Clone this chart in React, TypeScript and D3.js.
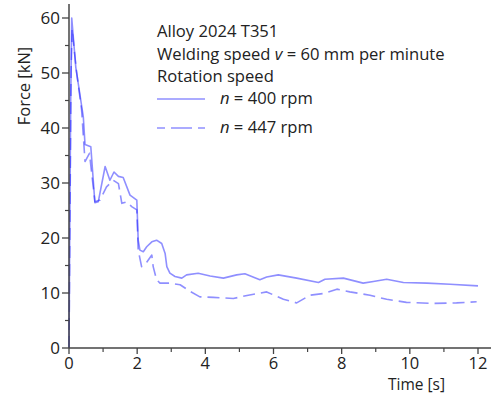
import React from "react";
import * as d3 from "d3";

const seriesSolidT = [0, 0.02, 0.05, 0.08, 0.2, 0.42, 0.47, 0.64, 0.76, 0.86, 1.06, 1.2, 1.32, 1.45, 1.59, 1.79, 1.99, 2.03, 2.08, 2.18, 2.28, 2.43, 2.57, 2.72, 2.82, 2.87, 2.96, 3.11, 3.31, 3.45, 3.79, 4.14, 4.53, 4.92, 5.16, 5.6, 5.8, 6.14, 6.68, 7.32, 7.51, 8.05, 8.63, 8.93, 9.32, 9.81, 10.5, 11.18, 12.0];
const seriesSolidV = [0, 20, 45, 60, 51, 42, 37, 36.6, 26.4, 26.6, 33, 30.5, 32, 31.2, 31, 27.8, 26.9, 19.6, 17.8, 17.5, 18.4, 19.3, 19.6, 19, 17.2, 14.8, 13.6, 13.0, 12.7, 13.3, 13.6, 13.1, 12.7, 13.3, 13.5, 12.4, 12.9, 13.3, 12.7, 11.9, 12.5, 12.7, 11.8, 12.1, 12.5, 11.9, 11.8, 11.6, 11.3];

const seriesDashT = [0, 0.03, 0.06, 0.09, 0.22, 0.37, 0.47, 0.6, 0.76, 0.91, 1.1, 1.3, 1.45, 1.55, 1.7, 1.84, 1.99, 2.03, 2.13, 2.28, 2.43, 2.47, 2.57, 2.67, 2.96, 3.26, 3.55, 3.84, 4.23, 4.82, 5.26, 5.8, 6.29, 6.68, 7.07, 7.46, 7.86, 8.24, 8.83, 9.32, 9.9, 10.69, 11.37, 11.96];
const seriesDashV = [0, 25, 50, 58, 50.3, 43.3, 33.9, 35.4, 26.6, 26.9, 29.3, 30.5, 29.9, 26.3, 26.6, 25.7, 25.1, 17.8, 14.8, 15.6, 16.9, 14.8, 12.4, 11.8, 11.8, 11.5, 10.3, 9.3, 9.2, 9.0, 9.6, 10.2, 8.85, 8.2, 9.6, 9.9, 10.7, 10.2, 9.6, 8.85, 8.3, 8.1, 8.2, 8.4];

const xTicks = [0, 2, 4, 6, 8, 10, 12];
const yTicks = [0, 10, 20, 30, 40, 50, 60];
const xMinor = [1, 3, 5, 7, 9, 11];
const yMinor = [5, 15, 25, 35, 45, 55];

const legendTitle = ["Alloy 2024 T351", "Welding speed", "Rotation speed"];
const seriesNames = ["400 rpm", "447 rpm"];

export default function App() {
  const W = 491, H = 394;
  const x = d3.scaleLinear().domain([0, 12]).range([69, 478]);
  const y = d3.scaleLinear().domain([0, 60]).range([348, 18]);
  const line = d3.line<[number, number]>().x(d => x(d[0])).y(d => y(d[1]));
  const solid = line(seriesSolidT.map((t, i) => [t, seriesSolidV[i]]));
  const dashed = line(seriesDashT.map((t, i) => [t, seriesDashV[i]]));
  const font = "'Open Sans', 'Noto Sans', sans-serif";
  const axisColor = "#444";
  const lineColor = "#2020ff";
  const x0 = x(0), y0 = y(0);
  return (
    <svg width={W} height={H} style={{ position: "absolute", left: 0, top: 0 }} fontFamily={font}>
      <rect width={W} height={H} fill="#fff" />
      <path d={solid!} fill="none" stroke={lineColor} strokeOpacity={0.5} strokeWidth={1.6} strokeLinejoin="round" />
      <path d={dashed!} fill="none" stroke={lineColor} strokeOpacity={0.5} strokeWidth={1.6} strokeDasharray="12,6" strokeLinejoin="round" />
      {/* axes */}
      <line x1={x0} x2={x0} y1={4} y2={y0} stroke={axisColor} strokeWidth={1.5} />
      <line x1={x0} x2={W} y1={y0} y2={y0} stroke={axisColor} strokeWidth={1.5} />
      {yTicks.map(v => (
        <g key={"y" + v}>
          <line x1={x0 - 7} x2={x0} y1={y(v)} y2={y(v)} stroke={axisColor} strokeWidth={1.3} />
          <text x={60} y={y(v)} dy="0.36em" textAnchor="end" fontSize={17} fill="#222">{v}</text>
        </g>
      ))}
      {yMinor.map(v => (
        <line key={"ym" + v} x1={x0 - 4} x2={x0} y1={y(v)} y2={y(v)} stroke={axisColor} strokeWidth={1.2} />
      ))}
      {xTicks.map(v => (
        <g key={"x" + v}>
          <line x1={x(v)} x2={x(v)} y1={y0} y2={y0 + 6} stroke={axisColor} strokeWidth={1.3} />
          <text x={x(v)} y={369} textAnchor="middle" fontSize={16.5} fill="#222">{v}</text>
        </g>
      ))}
      {xMinor.map(v => (
        <line key={"xm" + v} x1={x(v)} x2={x(v)} y1={y0} y2={y0 + 4} stroke={axisColor} strokeWidth={1.2} />
      ))}
      <text x={445} y={390} textAnchor="end" fontSize={15.5} fill="#222">Time [s]</text>
      <text transform="translate(30,86) rotate(-90)" textAnchor="middle" fontSize={16.5} fill="#222">Force [kN]</text>
      {/* legend */}
      <g fontSize={16.6} fill="#222">
        <text x={157} y={37}>{legendTitle[0]}</text>
        <text x={157} y={60}>{legendTitle[1]} <tspan fontStyle="italic">v</tspan> = 60 mm per minute</text>
        <text x={157} y={82}>{legendTitle[2]}</text>
        <line x1={157} x2={205} y1={99} y2={99} stroke={lineColor} strokeOpacity={0.5} strokeWidth={1.6} />
        <text x={220} y={104}><tspan fontStyle="italic">n</tspan> = {seriesNames[0]}</text>
        <line x1={157} x2={205} y1={128} y2={128} stroke={lineColor} strokeOpacity={0.5} strokeWidth={1.6} strokeDasharray="8,6,21,6,8" />
        <text x={220} y={133}><tspan fontStyle="italic">n</tspan> = {seriesNames[1]}</text>
      </g>
    </svg>
  );
}
